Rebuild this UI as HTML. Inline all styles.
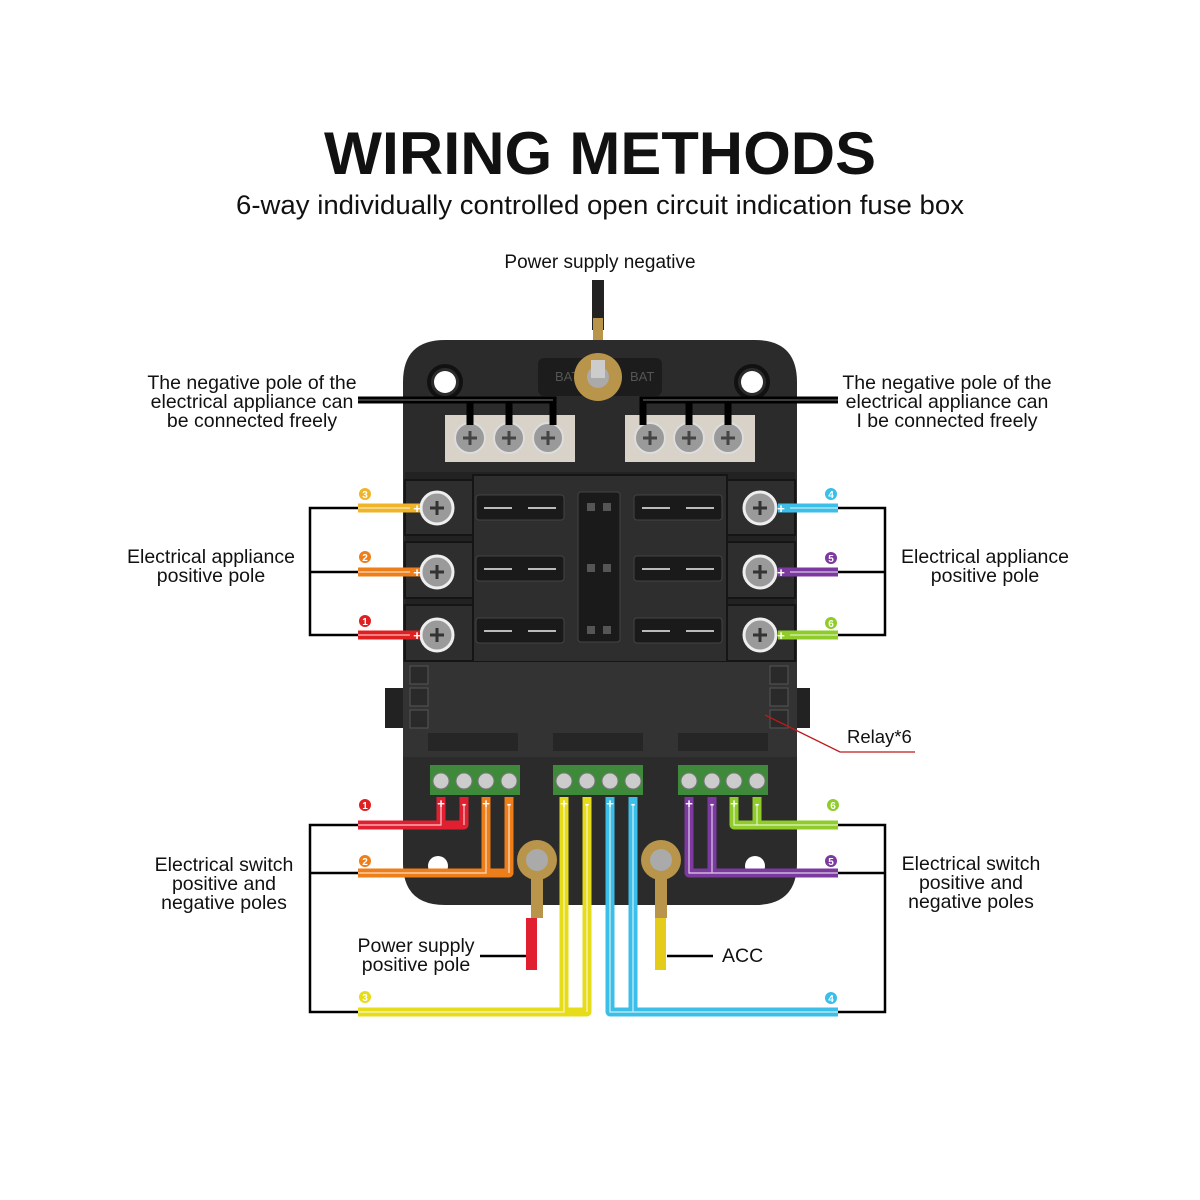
<!DOCTYPE html>
<html><head><meta charset="utf-8"><style>
html,body{margin:0;padding:0;background:#fff}
svg{display:block}
text{font-family:"Liberation Sans",sans-serif;fill:#111}
</style></head><body>
<svg width="1200" height="1200" viewBox="0 0 1200 1200" xmlns="http://www.w3.org/2000/svg">
<rect width="1200" height="1200" fill="#fff"/>
<text x="600" y="174" text-anchor="middle" font-size="60" font-weight="bold" textLength="552" lengthAdjust="spacingAndGlyphs">WIRING METHODS</text>
<text x="600" y="214" text-anchor="middle" font-size="27" textLength="728" lengthAdjust="spacingAndGlyphs">6-way individually controlled open circuit indication fuse box</text>
<text x="600" y="268" text-anchor="middle" font-size="19">Power supply negative</text>

<!-- top wire -->
<rect x="592" y="280" width="12" height="50" fill="#222"/>
<rect x="593" y="318" width="10" height="45" fill="#b8954a"/>

<!-- box -->
<path d="M445 340 H755 Q797 340 797 382 V863 Q797 905 755 905 H445 Q403 905 403 863 V382 Q403 340 445 340 Z" fill="#2b2b2b"/>
<circle cx="445" cy="382" r="11" fill="#fff"/><circle cx="752" cy="382" r="11" fill="#fff"/>
<circle cx="445" cy="382" r="16" fill="none" stroke="#111" stroke-width="4"/><circle cx="752" cy="382" r="16" fill="none" stroke="#111" stroke-width="4"/>
<circle cx="438" cy="866" r="10" fill="#fff"/><circle cx="755" cy="866" r="10" fill="#fff"/>
<rect x="538" y="358" width="124" height="38" rx="6" fill="#1c1c1c"/>
<text x="555" y="381" font-size="13" style="fill:#555">BAT</text>
<text x="630" y="381" font-size="13" style="fill:#555">BAT</text>
<circle cx="598" cy="377" r="24" fill="#b8954a"/>
<circle cx="598" cy="377" r="11" fill="#aaa"/>
<rect x="591" y="360" width="14" height="18" fill="#ccc"/>

<!-- metal plates -->
<rect x="445" y="415" width="130" height="47" fill="#d8d2c8"/>
<rect x="625" y="415" width="130" height="47" fill="#d8d2c8"/>
<g fill="#9a9a9a" stroke="#ddd" stroke-width="2">
<circle cx="470" cy="438" r="15"/><circle cx="509" cy="438" r="15"/><circle cx="548" cy="438" r="15"/>
<circle cx="650" cy="438" r="15"/><circle cx="689" cy="438" r="15"/><circle cx="728" cy="438" r="15"/>
</g>
<g stroke="#444" stroke-width="3">
<path d="M463 438h14M470 431v14M502 438h14M509 431v14M541 438h14M548 431v14M643 438h14M650 431v14M682 438h14M689 431v14M721 438h14M728 431v14"/>
</g>
<g fill="none" stroke="#000" stroke-width="7">
<path d="M358 400 H553 V425 M470 400 V425 M509 400 V425"/>
<path d="M838 400 H643 V425 M689 400 V425 M728 400 V425"/>
</g>
<g fill="none" stroke="#777" stroke-width="1">
<path d="M358 400 H553"/><path d="M838 400 H643"/>
</g>
<g font-size="19.5" text-anchor="middle">
<text x="252" y="389">The negative pole of the</text>
<text x="252" y="408">electrical appliance can</text>
<text x="252" y="427">be connected freely</text>
<text x="947" y="389">The negative pole of the</text>
<text x="947" y="408">electrical appliance can</text>
<text x="947" y="427">I be connected freely</text>
</g>

<!-- fuse area -->
<rect x="405" y="472" width="390" height="190" fill="#222"/>
<g fill="#2e2e2e" stroke="#151515" stroke-width="2">
<rect x="405" y="480" width="68" height="55"/><rect x="405" y="542" width="68" height="56"/><rect x="405" y="605" width="68" height="56"/>
<rect x="727" y="480" width="68" height="55"/><rect x="727" y="542" width="68" height="56"/><rect x="727" y="605" width="68" height="56"/>
<rect x="473" y="475" width="254" height="187"/>
</g>
<g fill="#1a1a1a" stroke="#444" stroke-width="1">
<rect x="476" y="495" width="88" height="25" rx="3"/><rect x="476" y="556" width="88" height="25" rx="3"/><rect x="476" y="618" width="88" height="25" rx="3"/>
<rect x="634" y="495" width="88" height="25" rx="3"/><rect x="634" y="556" width="88" height="25" rx="3"/><rect x="634" y="618" width="88" height="25" rx="3"/>
<rect x="578" y="492" width="42" height="150" rx="3"/>
</g>
<g fill="none" stroke="#bbb" stroke-width="2">
<path d="M484 508h28M528 508h28M484 569h28M528 569h28M484 631h28M528 631h28M642 508h28M686 508h28M642 569h28M686 569h28M642 631h28M686 631h28"/>
</g>
<g fill="#555"><rect x="587" y="503" width="8" height="8"/><rect x="603" y="503" width="8" height="8"/><rect x="587" y="564" width="8" height="8"/><rect x="603" y="564" width="8" height="8"/><rect x="587" y="626" width="8" height="8"/><rect x="603" y="626" width="8" height="8"/></g>

<g fill="#9a9a9a" stroke="#eee" stroke-width="3">
<circle cx="437" cy="508" r="16"/><circle cx="437" cy="572" r="16"/><circle cx="437" cy="635" r="16"/>
<circle cx="760" cy="508" r="16"/><circle cx="760" cy="572" r="16"/><circle cx="760" cy="635" r="16"/>
</g>
<g stroke="#333" stroke-width="3"><path d="M430 508h14M437 501v14M430 572h14M437 565v14M430 635h14M437 628v14M753 508h14M760 501v14M753 572h14M760 565v14M753 635h14M760 628v14"/></g>

<g stroke-width="9" fill="none">
<path d="M358 508H420" stroke="#f0b429"/><path d="M358 572H420" stroke="#ee7e1a"/><path d="M358 635H420" stroke="#e02020"/>
<path d="M778 508H838" stroke="#3bbfe8"/><path d="M778 572H838" stroke="#7c3aa0"/><path d="M778 635H838" stroke="#8fcc2a"/>
</g>
<g stroke="#fff" stroke-width="1.2" fill="none" opacity=".7"><path d="M358 508H410M358 572H410M358 635H410M790 508H838M790 572H838M790 635H838"/></g>
<g font-size="13" font-weight="bold" text-anchor="middle">
<text x="417" y="513" style="fill:#fff">+</text><text x="417" y="577" style="fill:#fff">+</text><text x="417" y="640" style="fill:#fff">+</text>
<text x="781" y="513" style="fill:#fff">+</text><text x="781" y="577" style="fill:#fff">+</text><text x="781" y="640" style="fill:#fff">+</text>
</g>
<g stroke="#000" stroke-width="2.5" fill="none">
<path d="M358 508H310V635H358M310 572H358"/><path d="M838 508H885V635H838M885 572H838"/>
<path d="M358 825H310V1012H358M310 873H358"/><path d="M838 825H885V1012H838M885 873H838"/>
</g>
<g font-size="19.5" text-anchor="middle">
<text x="211" y="563">Electrical appliance</text>
<text x="211" y="582">positive pole</text>
<text x="985" y="563">Electrical appliance</text>
<text x="985" y="582">positive pole</text>
</g>

<!-- relay area -->
<rect x="385" y="688" width="22" height="40" fill="#222"/><rect x="790" y="688" width="20" height="40" fill="#222"/>
<rect x="403" y="662" width="394" height="95" fill="#333"/>
<g fill="#2a2a2a" stroke="#555" stroke-width="1">
<rect x="410" y="666" width="18" height="18"/><rect x="410" y="688" width="18" height="18"/><rect x="410" y="710" width="18" height="18"/>
<rect x="770" y="666" width="18" height="18"/><rect x="770" y="688" width="18" height="18"/><rect x="770" y="710" width="18" height="18"/>
</g>
<g fill="#262626"><rect x="428" y="733" width="90" height="18"/><rect x="553" y="733" width="90" height="18"/><rect x="678" y="733" width="90" height="18"/></g>
<path d="M765 715 L840 752 H915" stroke="#c01818" stroke-width="1.3" fill="none"/>
<text x="847" y="743" font-size="18.5">Relay*6</text>

<g fill="#3e8a3a"><rect x="430" y="765" width="90" height="30"/><rect x="553" y="765" width="90" height="30"/><rect x="678" y="765" width="90" height="30"/></g>
<g fill="#ccc" stroke="#777">
<circle cx="441" cy="781" r="8"/><circle cx="464" cy="781" r="8"/><circle cx="486" cy="781" r="8"/><circle cx="509" cy="781" r="8"/>
<circle cx="564" cy="781" r="8"/><circle cx="587" cy="781" r="8"/><circle cx="610" cy="781" r="8"/><circle cx="633" cy="781" r="8"/>
<circle cx="689" cy="781" r="8"/><circle cx="712" cy="781" r="8"/><circle cx="734" cy="781" r="8"/><circle cx="757" cy="781" r="8"/>
</g>

<circle cx="537" cy="860" r="20" fill="#b8954a"/><circle cx="537" cy="860" r="11" fill="#aaa"/>
<rect x="531" y="878" width="12" height="40" fill="#b8954a"/>
<rect x="526" y="918" width="11" height="52" fill="#e02030"/>
<circle cx="661" cy="860" r="20" fill="#b8954a"/><circle cx="661" cy="860" r="11" fill="#aaa"/>
<rect x="655" y="878" width="12" height="40" fill="#b8954a"/>
<rect x="655" y="918" width="11" height="52" fill="#e6cc1a"/>
<path d="M480 956H526M667 956H713" stroke="#000" stroke-width="2.5"/>
<g font-size="19.5" text-anchor="middle">
<text x="416" y="952">Power supply</text>
<text x="416" y="971">positive pole</text>
</g>
<text x="722" y="962" font-size="19.5">ACC</text>

<g fill="none" stroke-width="9" stroke-linejoin="round">
<path d="M441 797V825H358M464 797V825H440" stroke="#e02030"/>
<path d="M486 797V873H358M509 797V873H480" stroke="#ee7e1a"/>
<path d="M564 797V1012H358M587 797V1012H560" stroke="#e6dc1a"/>
<path d="M610 797V1012H838M633 797V1012H610" stroke="#3bbfe8"/>
<path d="M689 797V873H838M712 797V873H690" stroke="#7c3aa0"/>
<path d="M734 797V825H838M757 797V825H735" stroke="#8fcc2a"/>
</g>
<g fill="none" stroke="#fff" stroke-width="1.2" opacity=".75">
<path d="M441 805V825H358M464 805V825M486 805V873H358M509 805V873M564 805V1012H358M587 805V1012M610 805V1012H838M633 805V1012M689 805V873H838M712 805V873M734 805V825H838M757 805V825"/>
</g>
<g font-size="13" font-weight="bold" text-anchor="middle">
<text x="441" y="808" style="fill:#fff">+</text><text x="464" y="808" style="fill:#fff">-</text><text x="486" y="808" style="fill:#fff">+</text><text x="509" y="808" style="fill:#fff">-</text>
<text x="564" y="808" style="fill:#fff">+</text><text x="587" y="808" style="fill:#fff">-</text><text x="610" y="808" style="fill:#fff">+</text><text x="633" y="808" style="fill:#fff">-</text>
<text x="689" y="808" style="fill:#fff">+</text><text x="712" y="808" style="fill:#fff">-</text><text x="734" y="808" style="fill:#fff">+</text><text x="757" y="808" style="fill:#fff">-</text>
</g>

<g font-size="10" font-weight="bold" text-anchor="middle">
<circle cx="365" cy="494" r="6" fill="#f0b429"/><text x="365" y="498" style="fill:#fff">3</text>
<circle cx="365" cy="557" r="6" fill="#ee7e1a"/><text x="365" y="561" style="fill:#fff">2</text>
<circle cx="365" cy="621" r="6" fill="#e02020"/><text x="365" y="625" style="fill:#fff">1</text>
<circle cx="831" cy="494" r="6" fill="#3bbfe8"/><text x="831" y="498" style="fill:#fff">4</text>
<circle cx="831" cy="558" r="6" fill="#7c3aa0"/><text x="831" y="562" style="fill:#fff">5</text>
<circle cx="831" cy="623" r="6" fill="#8fcc2a"/><text x="831" y="627" style="fill:#fff">6</text>
<circle cx="365" cy="805" r="6" fill="#e02020"/><text x="365" y="809" style="fill:#fff">1</text>
<circle cx="365" cy="861" r="6" fill="#ee7e1a"/><text x="365" y="865" style="fill:#fff">2</text>
<circle cx="365" cy="997" r="6" fill="#e6dc1a"/><text x="365" y="1001" style="fill:#fff">3</text>
<circle cx="833" cy="805" r="6" fill="#8fcc2a"/><text x="833" y="809" style="fill:#fff">6</text>
<circle cx="831" cy="861" r="6" fill="#7c3aa0"/><text x="831" y="865" style="fill:#fff">5</text>
<circle cx="831" cy="998" r="6" fill="#3bbfe8"/><text x="831" y="1002" style="fill:#fff">4</text>
</g>

<g font-size="19.5" text-anchor="middle">
<text x="224" y="871">Electrical switch</text>
<text x="224" y="890">positive and</text>
<text x="224" y="909">negative poles</text>
<text x="971" y="870">Electrical switch</text>
<text x="971" y="889">positive and</text>
<text x="971" y="908">negative poles</text>
</g>
</svg>
</body></html>
